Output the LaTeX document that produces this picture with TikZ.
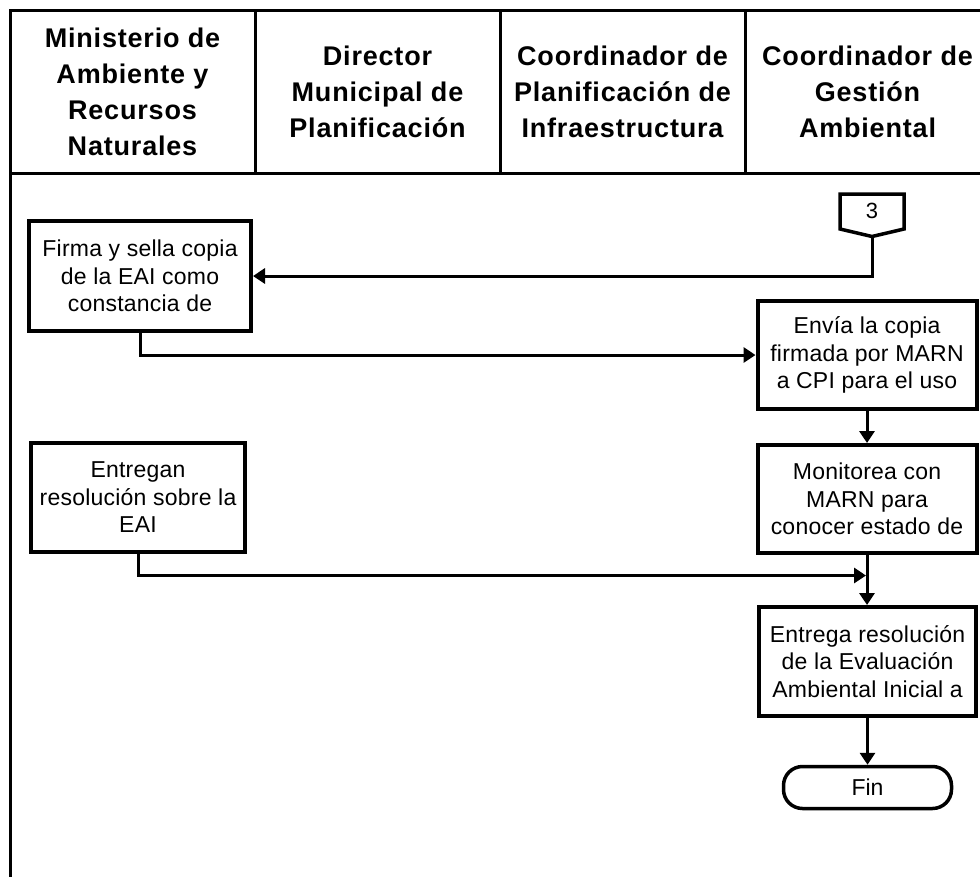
\documentclass[tikz,border=0pt]{standalone}
\usepackage{fontspec}
\setmainfont{Liberation Sans}
\usetikzlibrary{arrows.meta}

\tikzset{
  frame/.style={line width=3pt, line cap=rect},
  headtext/.style={font=\bfseries\fontsize{27}{36}\selectfont\addfontfeature{LetterSpace=3}, align=center, inner sep=0pt},
  procbox/.style={draw, line width=4pt, inner sep=0pt, align=center,
    font=\fontsize{23}{27.5}\selectfont\addfontfeature{LetterSpace=1}},
  endbox/.style={draw, line width=3.5pt, inner sep=0pt, rounded corners=19pt,
    font=\fontsize{23}{27.5}\selectfont},
  offpage/.style={line width=3.5pt, line join=miter},
  conn/.style={line width=3pt, -{Triangle[length=12pt,width=15pt]}},
}

\begin{document}
\begin{tikzpicture}[x=1pt,y=-1pt]
  \useasboundingbox (0,0) rectangle (980,876);

  % swimlane frame and header cells
  \draw[frame] (10,876) -- (10,10) -- (984,10);
  \draw[frame] (10,173) -- (984,173);
  \foreach \xx in {255,500,745} \draw[frame] (\xx,10) -- (\xx,173);

  \node[headtext] (h1) at (132.5,91.5) {Ministerio de\\Ambiente y\\Recursos\\Naturales};
  \node[headtext] (h2) at (377.5,91.5) {Director\\Municipal de\\Planificación};
  \node[headtext] (h3) at (622.5,91.5) {Coordinador de\\Planificación de\\Infraestructura};
  \node[headtext] (h4) at (867.5,91.5) {Coordinador de\\Gestión\\Ambiental};

  % off-page connector 3
  \draw[offpage] (840,194) -- (904,194) -- (904,229) -- (872,236.5) -- (840,229) -- cycle;
  \node[font=\fontsize{22}{26}\selectfont, inner sep=0pt] (c3) at (872,211) {3};
  \coordinate (c3tip) at (872,236.5);

  % process boxes
  \node[procbox, minimum width=222pt, minimum height=110pt] (firma) at (140,276)
    {Firma y sella copia\\de la EAI como\\constancia de};
  \node[procbox, minimum width=219pt, minimum height=108pt] (envia) at (867,355)
    {Envía la copia\\firmada por MARN\\a CPI para el uso};
  \node[procbox, minimum width=219pt, minimum height=108pt] (monitorea) at (867,499)
    {Monitorea con\\MARN para\\conocer estado de};
  \node[procbox, minimum width=214pt, minimum height=109pt] (entregan) at (138,497.5)
    {Entregan\\resolución sobre la\\EAI};
  \node[procbox, minimum width=217pt, minimum height=109pt] (entrega) at (867.5,661.5)
    {Entrega resolución\\de la Evaluación\\Ambiental Inicial a};
  \node[endbox, minimum width=168pt, minimum height=42pt] (fin) at (867.5,787.5) {Fin};

  % connectors
  \draw[conn] (c3tip) |- (firma.east);
  \draw[conn] (firma.south) |- (envia.west);
  \draw[conn] (envia.south) -- (monitorea.north);
  \draw[conn] (monitorea.south) -- (monitorea.south |- entrega.north);
  \coordinate (join) at (866,575.5);
  \draw[conn] (entregan.south) |- (join);
  \draw[conn] (entrega.south) -- (entrega.south |- fin.north);
\end{tikzpicture}
\end{document}
